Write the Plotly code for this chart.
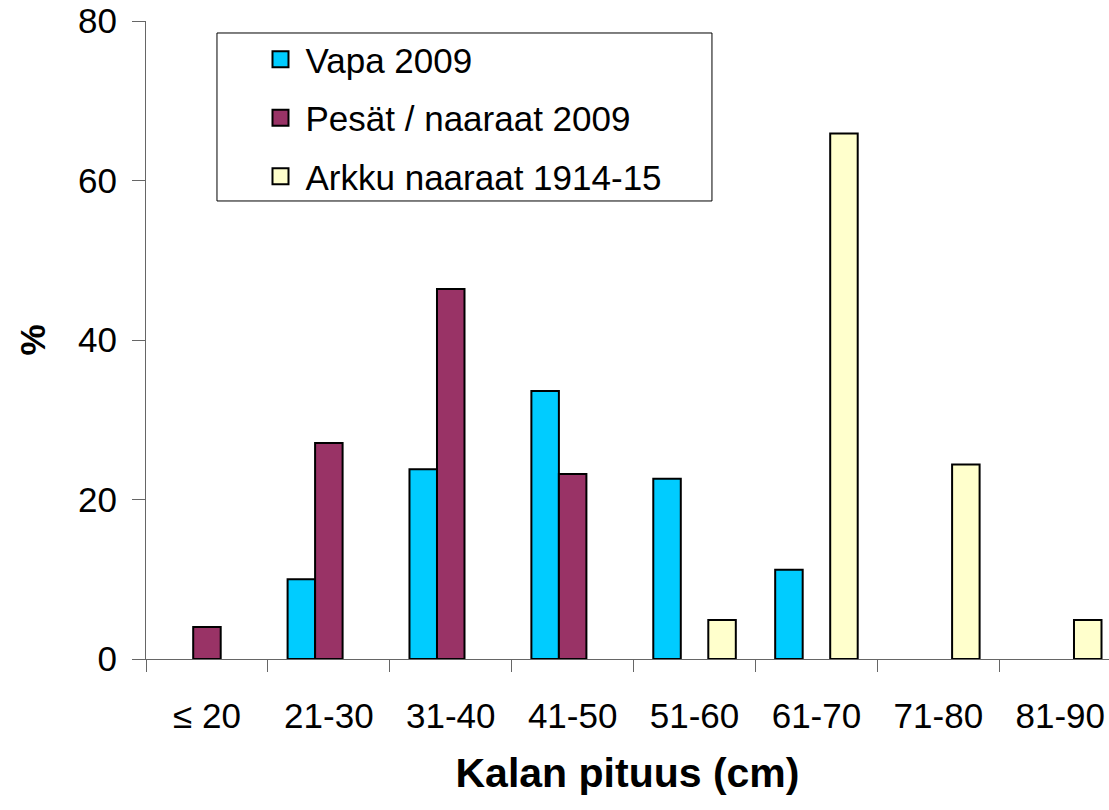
import plotly.graph_objects as go

categories = ["≤ 20", "21-30", "31-40", "41-50", "51-60", "61-70", "71-80", "81-90"]
vapa_2009 = [None, 10.0, 23.8, 33.6, 22.6, 11.2, None, None]
pesat_naaraat_2009 = [4.0, 27.1, 46.4, 23.2, None, None, None, None]
arkku_naaraat_1914_15 = [None, None, None, None, 4.9, 65.9, 24.4, 4.9]

series_names = ["Vapa 2009", "Pesät / naaraat 2009", "Arkku naaraat 1914-15"]
series_values = [vapa_2009, pesat_naaraat_2009, arkku_naaraat_1914_15]
series_colors = ["#00CCFF", "#993366", "#FFFFCC"]
y_ticks = [0, 20, 40, 60, 80]

FONT = "Liberation Sans, Arial, sans-serif"

fig = go.Figure()
for i, (name, vals, col) in enumerate(zip(series_names, series_values, series_colors)):
    fig.add_trace(go.Bar(
        x=categories, y=vals, name=name, legendgroup=f"g{i}", showlegend=False,
        marker=dict(color=col, line=dict(color="black", width=2)),
    ))
# legend entries with larger square swatches
for i, (name, col) in enumerate(zip(series_names, series_colors)):
    fig.add_trace(go.Scatter(
        x=[None], y=[None], mode="markers", name=name, legendgroup=f"g{i}",
        marker=dict(symbol="square", size=16, color=col, line=dict(color="black", width=2)),
        hoverinfo="skip",
    ))

fig.update_layout(
    width=1109, height=810,
    margin=dict(l=146, r=0, t=21, b=151, autoexpand=False),
    paper_bgcolor="white", plot_bgcolor="white",
    barmode="group", bargap=0.323, bargroupgap=0,
    font=dict(family=FONT, color="black", size=35),
    showlegend=True,
    legend=dict(
        x=0.1137, y=0.9859, xanchor="left", yanchor="top",
        bgcolor="rgba(0,0,0,0)", borderwidth=0,
        font=dict(size=35, family=FONT, color="black"),
        tracegroupgap=10, itemwidth=40,
    ),
    shapes=[dict(
        type="rect", xref="paper", yref="paper",
        x0=0.0737, x1=0.5877, y0=0.7179, y1=0.9812,
        line=dict(color="black", width=1), fillcolor="white", layer="below",
    )],
    xaxis=dict(
        type="category", range=[-0.5, 7.4], automargin=False,
        showline=True, linecolor="#666666", linewidth=1,
        ticks="outside", tickson="boundaries", ticklen=12, tickcolor="#666666",
        tickfont=dict(size=35, family=FONT, color="black"),
        ticklabelstandoff=26, ticklabeloverflow="allow",
        showgrid=False, zeroline=False,
        title=dict(text="<b>Kalan pituus (cm)</b>", font=dict(size=41, family=FONT, color="black"), standoff=24),
    ),
    yaxis=dict(
        range=[0, 80.01], tickvals=y_ticks, ticktext=[str(v) for v in y_ticks], automargin=False,
        showline=True, linecolor="#666666", linewidth=1,
        ticks="outside", ticklen=13, tickcolor="#666666",
        tickfont=dict(size=35, family=FONT, color="black"),
        ticklabelstandoff=8, ticklabeloverflow="allow",
        showgrid=False, zeroline=False,
        title=dict(text="<b>%</b>", font=dict(size=35, family=FONT, color="black"), standoff=21),
    ),
)

fig.write_html(
    "out.html",
    config={"displayModeBar": False},
    post_script="document.body.style.margin='0';document.body.style.overflow='hidden';",
)
